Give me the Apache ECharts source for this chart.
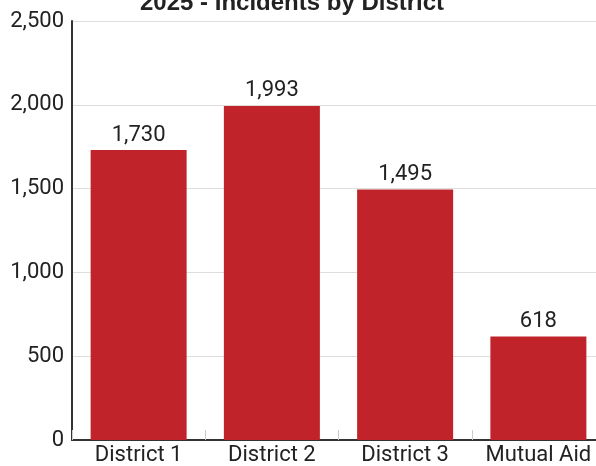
<!DOCTYPE html>
<html>
<head>
<meta charset="utf-8">
<script src="https://cdn.jsdelivr.net/npm/echarts@6/dist/echarts.min.js"></script>
<style>
  html, body { margin: 0; padding: 0; background: #fff; }
  #chart { width: 596px; height: 466px; }
</style>
</head>
<body>
<div id="chart"></div>
<script>
const categories = ['District 1', 'District 2', 'District 3', 'Mutual Aid'];
const incidents = [1730, 1993, 1495, 618];
const titleText = '2025 - Incidents by District';

const chart = echarts.init(document.getElementById('chart'));
const font = 'Roboto, "Noto Sans", sans-serif';

chart.setOption({
    animation: false,
    title: {
        text: titleText,
        left: 135,
        top: -14,
        textStyle: { fontFamily: '"Liberation Sans", Arial, sans-serif', fontSize: 24, fontWeight: 'bold', color: '#222' }
    },
    grid: { left: 72, top: 21, width: 533, height: 419, outerBoundsMode: 'none', containLabel: false },
    xAxis: {
        type: 'category',
        data: categories,
        axisLine: { lineStyle: { color: '#333', width: 2 } },
        axisTick: { show: true, inside: true, length: 10, interval: 0, lineStyle: { color: '#ccc' } },
        axisLabel: { fontFamily: font, fontSize: 22, color: '#222', margin: 4, interval: 0, hideOverlap: false }
    },
    yAxis: {
        type: 'value',
        min: 0,
        max: 2500,
        interval: 500,
        axisLine: { show: true, lineStyle: { color: '#333', width: 2 } },
        axisTick: { show: false },
        splitLine: { lineStyle: { color: '#ddd' } },
        axisLabel: {
            fontFamily: font, fontSize: 22, color: '#222', margin: 8,
            formatter: v => v.toLocaleString('en-US')
        }
    },
    series: [{
        type: 'bar',
        data: incidents,
        barWidth: 96,
        itemStyle: { color: '#c0232a' },
        label: {
            show: true,
            position: 'top',
            distance: 4,
            fontFamily: font,
            fontSize: 22,
            color: '#222',
            formatter: p => p.value.toLocaleString('en-US')
        }
    }]
});
</script>
</body>
</html>
